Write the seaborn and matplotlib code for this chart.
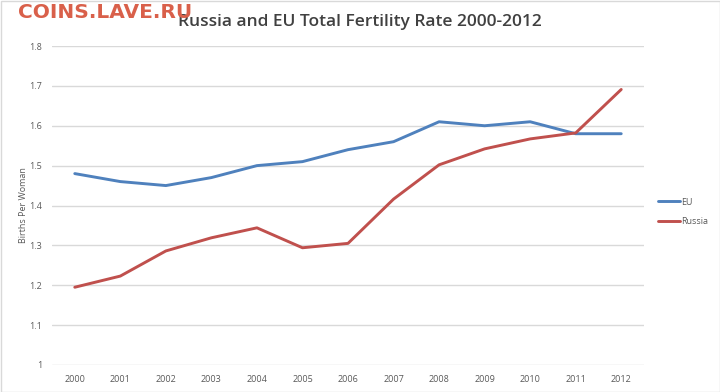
import matplotlib
matplotlib.use("Agg")
import matplotlib.pyplot as plt
import seaborn as sns
import pandas as pd
from matplotlib.patches import Rectangle
from matplotlib.lines import Line2D

years = list(range(2000, 2013))
eu = [1.48, 1.46, 1.45, 1.47, 1.50, 1.51, 1.54, 1.56, 1.61, 1.60, 1.61, 1.58, 1.58]
russia = [1.195, 1.223, 1.286, 1.319, 1.344, 1.294, 1.305, 1.416, 1.502, 1.542, 1.567, 1.582, 1.691]
series_names = ["EU", "Russia"]
y_ticks = [1, 1.1, 1.2, 1.3, 1.4, 1.5, 1.6, 1.7, 1.8]
y_tick_labels = ["1", "1.1", "1.2", "1.3", "1.4", "1.5", "1.6", "1.7", "1.8"]

df = pd.DataFrame({
    "Year": years * 2,
    "Value": eu + russia,
    "Series": [series_names[0]] * len(years) + [series_names[1]] * len(years),
})

sns.set_theme(style="white")
plt.rcParams["font.family"] = ["Open Sans", "DejaVu Sans"]

fig = plt.figure(figsize=(7.2, 3.92), dpi=100)
ax = fig.add_axes([52/720, 1 - 365/392, (644-52)/720, (365-46)/392])

palette = {"EU": "#4f81bd", "Russia": "#c0504d"}
sns.lineplot(data=df, x="Year", y="Value", hue="Series", palette=palette,
             linewidth=2.1, ax=ax, legend=False)

ax.set_xlim(1999.5, 2012.5)
ax.set_ylim(1.0, 1.8)
ax.set_yticks(y_ticks)
ax.set_yticklabels(y_tick_labels)
ax.set_xticks(years)
ax.set_xticklabels([str(y) for y in years])
ax.grid(axis="y", color="#d9d9d9", linewidth=1)
ax.set_axisbelow(True)
for s in ax.spines.values():
    s.set_visible(False)
ax.tick_params(axis="both", length=0, labelsize=6.5, colors="#595959")
ax.tick_params(axis="y", pad=7)
ax.tick_params(axis="x", pad=7)
ax.set_xlabel("")
ax.set_ylabel("Births Per Woman", fontsize=6.5, color="#595959", labelpad=1)

handles = [Line2D([0], [0], color=palette[n], lw=2.1) for n in series_names]
leg = fig.legend(handles, series_names, loc="center left",
                 bbox_to_anchor=(650/720, 1 - 212/392), frameon=False,
                 fontsize=6.5, handlelength=2.4, handletextpad=0.15,
                 labelspacing=1.2)
for t in leg.get_texts():
    t.set_color("#595959")

fig.text(360/720, 1 - 22/392, "Russia and EU Total Fertility Rate 2000-2012",
         ha="center", va="center", fontsize=12.5, fontweight="semibold",
         color="#404040")
fig.text(18/720, 1 - 12/392, "COINS.LAVE.RU", ha="left", va="center",
         fontsize=14.5, fontweight="bold", color="#d9604a",
         family=["DejaVu Sans"])

fig.patches.append(Rectangle((0.5/720, 0.5/392), 1 - 1/720, 1 - 1/392,
                             transform=fig.transFigure, fill=False,
                             edgecolor="#d9d9d9", linewidth=1))

fig.savefig("out.png", dpi=100)
